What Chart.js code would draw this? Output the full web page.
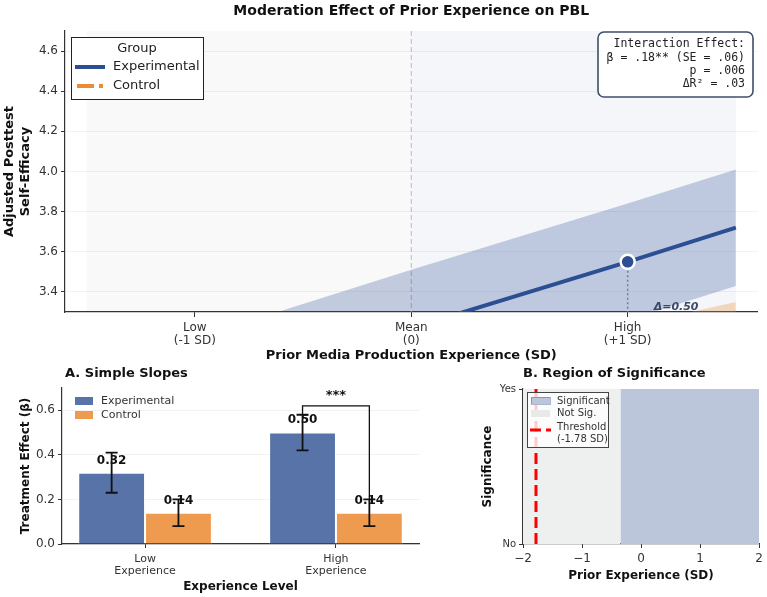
<!DOCTYPE html>
<html>
<head>
<meta charset="utf-8">
<script src="https://cdn.jsdelivr.net/npm/chart.js@4.4.1/dist/chart.umd.min.js"></script>
<style>
    body { margin: 0; background: #fff; width: 767px; height: 597px; position: relative; overflow: hidden; }
    canvas { position: absolute; }
</style>
</head>
<body>
<canvas id="moderation" width="767" height="365" style="left:0;top:0"></canvas>
<canvas id="slopes" width="420" height="237" style="left:0;top:360px"></canvas>
<canvas id="region" width="327" height="237" style="left:440px;top:360px"></canvas>
<script>
// Oberes Diagramm: Moderation
var sdPoints = [-1.5, -1, 0, 1, 1.5];
var sdTicks = [-1, 0, 1];
var sdTickLabels = [['Low', '(-1 SD)'], ['Mean', '(0)'], ['High', '(+1 SD)']];
var yTicksTop = [3.4, 3.6, 3.8, 4.0, 4.2, 4.4, 4.6];
var expMean = [2.72, 2.88, 3.22, 3.55, 3.72];
var expUpper = [3.01, 3.17, 3.51, 3.84, 4.01];
var expLower = [2.43, 2.59, 2.93, 3.26, 3.43];
var ctrlMean = [2.44, 2.56, 2.81, 3.05, 3.17];
var ctrlUpper = [2.62, 2.74, 2.99, 3.23, 3.35];
var ctrlLower = [2.26, 2.38, 2.63, 2.87, 2.99];
var shadeBounds = [-1.5, 0, 1.5];
var statsLines = ['Interaction Effect:', 'β = .18** (SE = .06)', 'p = .006', 'ΔR² = .03'];

// Unten links: Simple Slopes
var levels = [['Low', 'Experience'], ['High', 'Experience']];
var levelPos = [0, 1];
var expEffect = [0.32, 0.50];
var expErr = [0.09, 0.08];
var ctrlEffect = [0.14, 0.14];
var ctrlErr = [0.06, 0.06];
var barTicks = [0, 0.2, 0.4, 0.6];

// Unten rechts: Region of Significance
var sigBounds = [-2, -0.35, 2];
var jnThreshold = -1.78;
var sigTicks = [-2, -1, 0, 1, 2];

var FONT = 'DejaVu Sans';
var MONO = 'DejaVu Sans Mono';
var BLUE = '#2c4f94';
var ORANGE = '#ee8a33';
var BAR_BLUE = '#5873a7';
var BAR_ORANGE = '#ef9b4f';

function pts(xs, ys) {
    return xs.map(function (x, i) { return { x: x, y: ys[i] }; });
}
function f(size, weight, style) {
    return (style || '') + ' ' + (weight || '') + ' ' + size + 'px "' + FONT + '"';
}
function fixTicks(list) {
    return function (s) { s.ticks = list.map(function (v) { return { value: v }; }); };
}

Chart.defaults.font.family = FONT;
Chart.defaults.animation = false;
Chart.defaults.events = [];
Chart.defaults.plugins.legend.display = false;
Chart.defaults.plugins.tooltip.enabled = false;

// ---------- Moderation ----------
var topDecor = {
    id: 'topDecor',
    beforeDraw: function (chart) {
        var ctx = chart.ctx, x = chart.scales.x, a = chart.chartArea;
        ctx.save();
        ctx.fillStyle = 'rgba(0,0,0,0.025)';
        ctx.fillRect(x.getPixelForValue(shadeBounds[0]), a.top,
            x.getPixelForValue(shadeBounds[1]) - x.getPixelForValue(shadeBounds[0]), a.bottom - a.top);
        ctx.fillStyle = 'rgba(44,79,148,0.05)';
        ctx.fillRect(x.getPixelForValue(shadeBounds[1]), a.top,
            x.getPixelForValue(shadeBounds[2]) - x.getPixelForValue(shadeBounds[1]), a.bottom - a.top);
        ctx.restore();
    },
    beforeDatasetsDraw: function (chart) {
        var ctx = chart.ctx, x = chart.scales.x, y = chart.scales.y, a = chart.chartArea;
        ctx.save();
        // Mittelwert-Linie
        var mx = x.getPixelForValue(0);
        ctx.strokeStyle = '#b3b8c2';
        ctx.lineWidth = 1;
        ctx.setLineDash([5, 3]);
        ctx.beginPath(); ctx.moveTo(mx, a.top); ctx.lineTo(mx, a.bottom); ctx.stroke();
        // gepunktete Linie unter dem High-Punkt
        var hx = x.getPixelForValue(sdPoints[3]);
        ctx.strokeStyle = '#8a8f99';
        ctx.lineWidth = 1.5;
        ctx.setLineDash([2, 2.5]);
        ctx.beginPath(); ctx.moveTo(hx, y.getPixelForValue(expMean[3])); ctx.lineTo(hx, a.bottom); ctx.stroke();
        ctx.restore();
    },
    afterDraw: function (chart) {
        var ctx = chart.ctx, x = chart.scales.x, y = chart.scales.y, a = chart.chartArea;
        ctx.save();
        // Delta-Beschriftung (abgeschnitten am Rand)
        ctx.beginPath(); ctx.rect(a.left, a.top, a.right - a.left, a.bottom - a.top); ctx.clip();
        ctx.font = f(11, 'bold', 'italic');
        ctx.fillStyle = '#3b4a66';
        ctx.textAlign = 'left';
        ctx.textBaseline = 'middle';
        var diff = expMean[3] - ctrlMean[3];
        ctx.fillText('Δ=' + diff.toFixed(2), x.getPixelForValue(sdPoints[3]) + 26,
            y.getPixelForValue((expMean[3] + ctrlMean[3]) / 2) - 5);
        ctx.restore();

        ctx.save();
        // Titel
        ctx.font = f(14, 'bold');
        ctx.fillStyle = '#111';
        ctx.textAlign = 'center';
        ctx.textBaseline = 'middle';
        ctx.fillText('Moderation Effect of Prior Experience on PBL', (a.left + a.right) / 2, 11);

        // Legende
        var lx = a.left + 6, ly = a.top + 6;
        ctx.fillStyle = 'rgba(255,255,255,0.9)';
        ctx.fillRect(lx, ly, 132, 62);
        ctx.strokeStyle = '#222';
        ctx.lineWidth = 1;
        ctx.strokeRect(lx + 0.5, ly + 0.5, 132, 62);
        ctx.font = f(13);
        ctx.fillStyle = '#222';
        ctx.fillText('Group', lx + 66, ly + 12);
        ctx.textAlign = 'left';
        ctx.fillText('Experimental', lx + 42, ly + 30);
        ctx.fillText('Control', lx + 42, ly + 49);
        ctx.lineWidth = 4;
        ctx.strokeStyle = BLUE;
        ctx.beginPath(); ctx.moveTo(lx + 4, ly + 30); ctx.lineTo(lx + 34, ly + 30); ctx.stroke();
        ctx.strokeStyle = ORANGE;
        ctx.setLineDash([17, 5]);
        ctx.beginPath(); ctx.moveTo(lx + 6, ly + 49); ctx.lineTo(lx + 32, ly + 49); ctx.stroke();
        ctx.setLineDash([]);

        // Statistik-Box
        var bx = 598, by = 32, bw = 155, bh = 65;
        ctx.beginPath();
        ctx.roundRect(bx, by, bw, bh, 6);
        ctx.fillStyle = 'rgba(255,255,255,0.95)';
        ctx.fill();
        ctx.strokeStyle = '#3f5069';
        ctx.lineWidth = 1.6;
        ctx.stroke();
        ctx.font = '11.5px "' + MONO + '"';
        ctx.fillStyle = '#222';
        ctx.textAlign = 'right';
        statsLines.forEach(function (t, i) {
            ctx.fillText(t, bx + bw - 8, by + 12.5 + i * 13.2);
        });
        ctx.restore();
    }
};

new Chart(document.getElementById('moderation'), {
    type: 'line',
    data: {
        datasets: [{
            label: 'High',
            data: [{ x: sdPoints[3], y: expMean[3] }],
            showLine: false,
            pointRadius: 7,
            pointBackgroundColor: BLUE,
            pointBorderColor: '#fff',
            pointBorderWidth: 2.5,
            order: 0
        }, {
            label: 'Experimental',
            data: pts(sdPoints, expMean),
            borderColor: BLUE,
            borderWidth: 4,
            pointRadius: 0,
            order: 1
        }, {
            label: 'Control',
            data: pts(sdPoints, ctrlMean),
            borderColor: ORANGE,
            borderWidth: 4,
            borderDash: [15, 6],
            pointRadius: 0,
            order: 1
        }, {
            label: 'Exp CI',
            data: pts(sdPoints, expUpper),
            fill: '+1',
            backgroundColor: 'rgba(44,79,148,0.27)',
            borderColor: 'transparent',
            borderWidth: 0,
            pointRadius: 0,
            order: 3
        }, {
            label: 'Exp CI low',
            data: pts(sdPoints, expLower),
            borderColor: 'transparent',
            borderWidth: 0,
            pointRadius: 0,
            order: 3
        }, {
            label: 'Ctrl CI',
            data: pts(sdPoints, ctrlUpper),
            fill: '+1',
            backgroundColor: 'rgba(238,138,51,0.3)',
            borderColor: 'transparent',
            borderWidth: 0,
            pointRadius: 0,
            order: 3
        }, {
            label: 'Ctrl CI low',
            data: pts(sdPoints, ctrlLower),
            borderColor: 'transparent',
            borderWidth: 0,
            pointRadius: 0,
            order: 3
        }]
    },
    options: {
        responsive: false,
        layout: { padding: { top: 31, right: 7, left: 0, bottom: 0 } },
        scales: {
            x: {
                type: 'linear', min: -1.6, max: 1.6,
                afterBuildTicks: fixTicks(sdTicks),
                afterFit: function (s) { s.height = 53; },
                ticks: {
                    autoSkip: false, maxRotation: 0, padding: 4, color: '#333',
                    font: { size: 12, lineHeight: 1.1 },
                    callback: function (v) { return sdTickLabels[sdTicks.indexOf(v)]; }
                },
                grid: { drawOnChartArea: false, tickLength: 5, tickColor: '#333' },
                border: { color: '#333', width: 1.2 },
                title: {
                    display: true, text: 'Prior Media Production Experience (SD)', color: '#111',
                    font: { size: 13, weight: 'bold' }, padding: { top: 0, bottom: 2 }
                }
            },
            y: {
                min: 3.3, max: 4.7,
                afterBuildTicks: fixTicks(yTicksTop),
                afterFit: function (s) { s.width = 65; },
                ticks: {
                    padding: 3, color: '#333', font: { size: 12 },
                    callback: function (v) { return v.toFixed(1); }
                },
                grid: { color: 'rgba(0,0,0,0.05)', tickColor: '#333', tickLength: 4 },
                border: { color: '#333', width: 1.2 },
                title: {
                    display: true, text: ['Adjusted Posttest', 'Self-Efficacy'], color: '#111',
                    font: { size: 13, weight: 'bold', lineHeight: 1.2 }, padding: { top: 2, bottom: 0 }
                }
            }
        }
    },
    plugins: [topDecor]
});

// ---------- Simple Slopes ----------
var slopeDecor = {
    id: 'slopeDecor',
    afterDatasetsDraw: function (chart) {
        var ctx = chart.ctx, y = chart.scales.y;
        var sets = [[expEffect, expErr], [ctrlEffect, ctrlErr]];
        ctx.save();
        // Werte
        ctx.font = f(12, 'bold');
        ctx.fillStyle = '#111';
        ctx.textAlign = 'center';
        ctx.textBaseline = 'middle';
        sets.forEach(function (s, d) {
            chart.getDatasetMeta(d).data.forEach(function (bar, i) {
                ctx.fillText(s[0][i].toFixed(2), bar.x, y.getPixelForValue(s[0][i] + 0.055));
            });
        });
        // Fehlerbalken
        ctx.strokeStyle = '#111';
        ctx.lineWidth = 1.8;
        sets.forEach(function (s, d) {
            chart.getDatasetMeta(d).data.forEach(function (bar, i) {
                var top = y.getPixelForValue(s[0][i] + s[1][i]);
                var bot = y.getPixelForValue(s[0][i] - s[1][i]);
                ctx.beginPath();
                ctx.moveTo(bar.x, top); ctx.lineTo(bar.x, bot);
                ctx.moveTo(bar.x - 6, top); ctx.lineTo(bar.x + 6, top);
                ctx.moveTo(bar.x - 6, bot); ctx.lineTo(bar.x + 6, bot);
                ctx.stroke();
            });
        });
        // Signifikanz-Klammer bei High
        var x1 = chart.getDatasetMeta(0).data[1].x, x2 = chart.getDatasetMeta(1).data[1].x;
        var yTop = y.getPixelForValue(0.62);
        ctx.lineWidth = 1.3;
        ctx.beginPath();
        ctx.moveTo(x1, y.getPixelForValue(expEffect[1] + expErr[1]));
        ctx.lineTo(x1, yTop); ctx.lineTo(x2, yTop);
        ctx.lineTo(x2, y.getPixelForValue(ctrlEffect[1] + ctrlErr[1]));
        ctx.stroke();
        ctx.font = f(13, 'bold');
        ctx.fillText('***', (x1 + x2) / 2, y.getPixelForValue(0.665));
        ctx.restore();
    },
    afterDraw: function (chart) {
        var ctx = chart.ctx, a = chart.chartArea;
        ctx.save();
        ctx.font = f(13, 'bold');
        ctx.fillStyle = '#111';
        ctx.textBaseline = 'middle';
        ctx.fillText('A. Simple Slopes', a.left + 3, 14);
        ctx.font = f(11);
        ctx.fillStyle = BAR_BLUE; ctx.fillRect(a.left + 13, a.top + 9, 18, 8);
        ctx.fillStyle = BAR_ORANGE; ctx.fillRect(a.left + 13, a.top + 23, 18, 8);
        ctx.fillStyle = '#333';
        ctx.fillText('Experimental', a.left + 39, a.top + 13.5);
        ctx.fillText('Control', a.left + 39, a.top + 27);
        ctx.restore();
    }
};

new Chart(document.getElementById('slopes'), {
    type: 'bar',
    data: {
        datasets: [{
            label: 'Experimental',
            data: pts(levelPos, expEffect),
            backgroundColor: BAR_BLUE,
            borderColor: 'rgba(255,255,255,0.7)',
            borderWidth: 1
        }, {
            label: 'Control',
            data: pts(levelPos, ctrlEffect),
            backgroundColor: BAR_ORANGE,
            borderColor: 'rgba(255,255,255,0.7)',
            borderWidth: 1
        }]
    },
    options: {
        responsive: false,
        categoryPercentage: 0.7,
        barPercentage: 1.0,
        layout: { padding: { top: 28, right: 1, left: 0, bottom: 0 } },
        scales: {
            x: {
                type: 'linear', min: -0.435, max: 1.435, offset: false,
                afterBuildTicks: fixTicks(levelPos),
                afterFit: function (s) { s.height = 53; },
                ticks: {
                    autoSkip: false, maxRotation: 0, padding: 5, color: '#333',
                    font: { size: 11, lineHeight: 1.1 },
                    callback: function (v) { return levels[levelPos.indexOf(v)]; }
                },
                grid: { offset: false, drawOnChartArea: false, tickLength: 4, tickColor: '#333' },
                border: { color: '#333', width: 1.2 },
                title: {
                    display: true, text: 'Experience Level', color: '#111',
                    font: { size: 12, weight: 'bold' }, padding: { top: 0, bottom: 3 }
                }
            },
            y: {
                min: 0, max: 0.7,
                afterBuildTicks: fixTicks(barTicks),
                afterFit: function (s) { s.width = 62; },
                ticks: {
                    padding: 3, color: '#333', font: { size: 12 },
                    callback: function (v) { return v.toFixed(1); }
                },
                grid: { color: 'rgba(0,0,0,0.05)', tickColor: '#333', tickLength: 4 },
                border: { color: '#333', width: 1.2 },
                title: {
                    display: true, text: 'Treatment Effect (β)', color: '#111',
                    font: { size: 12, weight: 'bold' }, padding: { top: 19, bottom: 0 }
                }
            }
        }
    },
    plugins: [slopeDecor]
});

// ---------- Region of Significance ----------
var regionDecor = {
    id: 'regionDecor',
    afterDraw: function (chart) {
        var ctx = chart.ctx, a = chart.chartArea;
        ctx.save();
        ctx.font = f(13, 'bold');
        ctx.fillStyle = '#111';
        ctx.textBaseline = 'middle';
        ctx.fillText('B. Region of Significance', a.left, 14);
        // Legende
        var lx = a.left + 4, ly = a.top + 3;
        ctx.fillStyle = 'rgba(255,255,255,0.8)';
        ctx.fillRect(lx, ly, 81, 55);
        ctx.strokeStyle = '#444';
        ctx.lineWidth = 1;
        ctx.strokeRect(lx + 0.5, ly + 0.5, 81, 55);
        ctx.fillStyle = '#bcc6db';
        ctx.fillRect(lx + 4, ly + 5, 19, 7);
        ctx.strokeStyle = 'rgba(44,79,148,0.4)';
        ctx.strokeRect(lx + 4.5, ly + 5.5, 19, 7);
        ctx.fillStyle = '#e8eaea';
        ctx.fillRect(lx + 4, ly + 18, 19, 7);
        ctx.strokeStyle = '#ff0000';
        ctx.lineWidth = 3;
        ctx.setLineDash([11, 5]);
        ctx.beginPath(); ctx.moveTo(lx + 3, ly + 38); ctx.lineTo(lx + 24, ly + 38); ctx.stroke();
        ctx.setLineDash([]);
        ctx.font = f(10);
        ctx.fillStyle = '#333';
        ctx.fillText('Significant', lx + 30, ly + 9);
        ctx.fillText('Not Sig.', lx + 30, ly + 21.5);
        ctx.fillText('Threshold', lx + 30, ly + 35);
        ctx.fillText('(-1.78 SD)', lx + 30, ly + 47);
        ctx.restore();
    }
};

new Chart(document.getElementById('region'), {
    type: 'line',
    data: {
        datasets: [{
            label: 'Threshold',
            data: [{ x: jnThreshold, y: 0 }, { x: jnThreshold, y: 1 }],
            borderColor: '#ff0000',
            borderWidth: 3,
            borderDash: [11, 5],
            pointRadius: 0,
            order: 0
        }, {
            label: 'Significant',
            data: [{ x: sigBounds[1], y: 1 }, { x: sigBounds[2], y: 1 }],
            fill: 'origin',
            backgroundColor: '#bcc6db',
            borderColor: 'transparent',
            borderWidth: 0,
            pointRadius: 0,
            order: 1
        }, {
            label: 'Not Sig.',
            data: [{ x: sigBounds[0], y: 1 }, { x: sigBounds[1], y: 1 }],
            fill: 'origin',
            backgroundColor: '#eef0ef',
            borderColor: 'transparent',
            borderWidth: 0,
            pointRadius: 0,
            order: 1
        }]
    },
    options: {
        responsive: false,
        layout: { padding: { top: 29, right: 8, left: 0, bottom: 0 } },
        scales: {
            x: {
                type: 'linear', min: -2, max: 2,
                afterBuildTicks: fixTicks(sigTicks),
                afterFit: function (s) { s.height = 53; },
                ticks: {
                    autoSkip: false, maxRotation: 0, padding: 4, color: '#333', font: { size: 12 },
                    callback: function (v) { return v < 0 ? '\u2212' + Math.abs(v) : String(v); }
                },
                grid: { drawOnChartArea: false, tickLength: 4, tickColor: '#333' },
                border: { color: '#333', width: 1.2 },
                title: {
                    display: true, text: 'Prior Experience (SD)', color: '#111',
                    font: { size: 12, weight: 'bold' }, padding: { top: 0, bottom: 14 }
                }
            },
            y: {
                min: 0, max: 1,
                afterBuildTicks: fixTicks([0, 1]),
                afterFit: function (s) { s.width = 83; },
                ticks: {
                    padding: 3, color: '#333', font: { size: 10 },
                    callback: function (v) { return v === 1 ? 'Yes' : 'No'; }
                },
                grid: { drawOnChartArea: false, tickColor: '#333', tickLength: 4 },
                border: { color: '#333', width: 1.2 },
                title: {
                    display: true, text: 'Significance', color: '#111',
                    font: { size: 12, weight: 'bold' }, padding: { top: 41, bottom: 0 }
                }
            }
        }
    },
    plugins: [regionDecor]
});
</script>
</body>
</html>
